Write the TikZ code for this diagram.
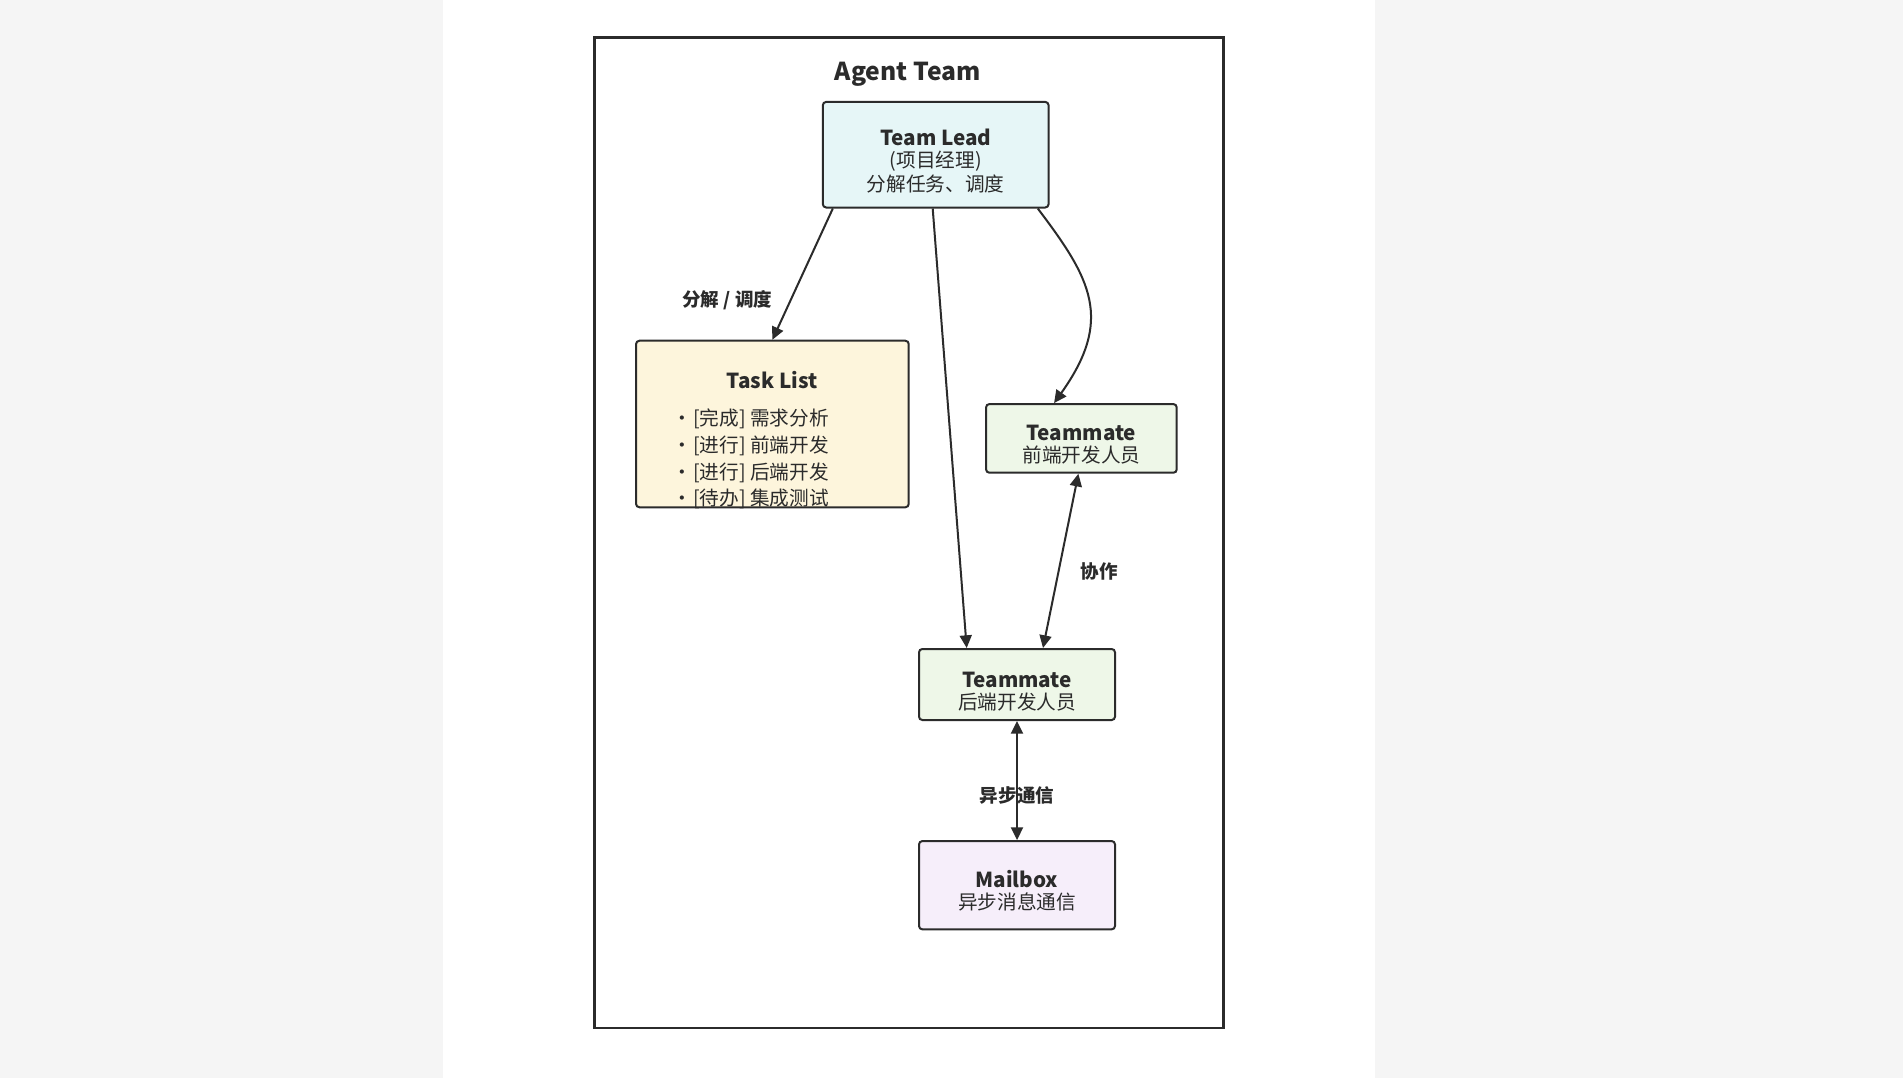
\documentclass[tikz,border=0pt]{standalone}
\usepackage{fontspec}
\setmainfont{Noto Sans CJK SC}
\usetikzlibrary{arrows.meta,calc}

\definecolor{pagegray}{HTML}{F5F5F5}
\definecolor{inkc}{HTML}{2B2B2B}
\definecolor{leadfill}{HTML}{E6F6F7}
\definecolor{taskfill}{HTML}{FDF5DC}
\definecolor{matefill}{HTML}{EEF7E8}
\definecolor{mailfill}{HTML}{F6EEFA}

\newcommand{\headtxt}[1]{{\bfseries\fontsize{15.5}{17}\selectfont #1}}
\newcommand{\dotmark}{\makebox[6pt][c]{·}\hspace{5pt}}

\tikzset{every picture/.style={line width=0.75pt}}
\tikzset{
  card/.style={draw=inkc, line width=1.5pt, rounded corners=2.5pt, inner sep=0pt},
  cardtext/.style={align=center, text=inkc, inner sep=0pt, font=\fontsize{14.75}{16.5}\selectfont},
  linklabel/.style={text=inkc, inner sep=1pt, font=\bfseries\fontsize{13.9}{16}\selectfont},
  link/.style={draw=inkc, line width=1.5pt, -{Triangle[length=9.5pt,width=9pt]}},
  duplex/.style={link, {Triangle[length=9.5pt,width=9pt]}-{Triangle[length=9.5pt,width=9pt]}},
}

\begin{document}
\begin{tikzpicture}[x=0.75pt,y=0.75pt,yscale=-1,xscale=1]
\useasboundingbox (0,0) rectangle (1903,1078);

% page
\fill[pagegray] (0,0) rectangle (1903,1078);
\fill[white] (443,0) rectangle (1375,1078);

% Frame
\node[draw=inkc, line width=2pt, minimum width=471.5pt, minimum height=742.8pt, inner sep=0pt] (team) at (909,532.8) {};
% Title
\node[text=inkc, font=\bfseries\fontsize{18.5}{22}\selectfont] (title) at (907.8,74) {Agent Team};

% Boxes
\node[card, fill=leadfill, minimum width=169.3pt, minimum height=79.2pt] (lead) at (935.7,154.7) {};
\node[card, fill=taskfill, minimum width=204.5pt, minimum height=124.9pt] (tasks) at (772.4,424) {};
\node[card, fill=matefill, minimum width=143pt, minimum height=51.5pt] (front) at (1081.4,438.4) {};
\node[card, fill=matefill, minimum width=147pt, minimum height=53.25pt] (back) at (1017,684.5) {};
\node[card, fill=mailfill, minimum width=147pt, minimum height=66.2pt] (mail) at (1017,885.2) {};

% Box texts
\node[cardtext] (leadtxt) at (935.7,161) {\headtxt{Team Lead}\\(项目经理)\\[2pt]分解任务、调度};
\node[cardtext] (taskhead) at (772,380) {\headtxt{Task List}};
\node[cardtext, align=left, anchor=west, font=\fontsize{14.75}{20}\selectfont] (tasklines) at (678,459.3)
  {\dotmark[完成] 需求分析\\\dotmark[进行] 前端开发\\\dotmark[进行] 后端开发\\\dotmark[待办] 集成测试};
\node[cardtext] (fronttxt) at (1081.4,445) {\headtxt{Teammate}\\前端开发人员};
\node[cardtext] (backtxt) at (1017,691.7) {\headtxt{Teammate}\\后端开发人员};
\node[cardtext] (mailtxt) at (1017,891.2) {\headtxt{Mailbox}\\异步消息通信};

% Connectors
\draw[link] ($(lead.south west)+(11,0)$) -- (tasks.north);
\draw[link] ($(lead.south)+(-3,0)$) -- ($(back.north west)+(48.7,0)$);
\draw[link] ($(lead.south east)+(-11.8,0)$) .. controls +(53,70) and +(60,-84) .. ($(front.north west)+(69,0)$);
\draw[duplex] ($(front.south west)+(93.3,0)$) -- ($(back.north west)+(125,0)$);
\draw[duplex] (back.south) -- (mail.north);

% Labels
\node[linklabel] (splitlbl) at (727.3,300) {分解 / 调度};
\node[linklabel] (colllbl) at (1099.3,571) {协作};
\node[linklabel] (asynclbl) at (1017,795.7) {异步通信};

\end{tikzpicture}
\end{document}
